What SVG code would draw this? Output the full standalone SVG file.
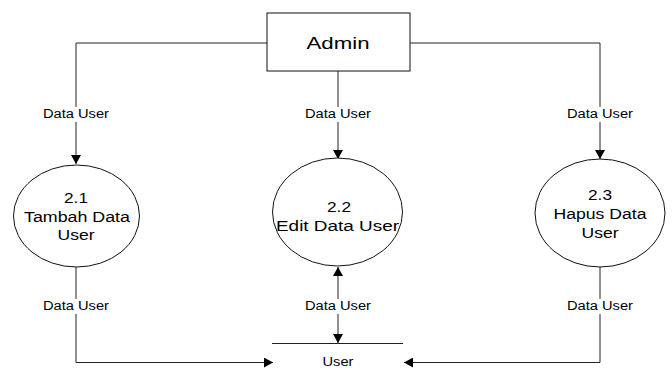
<svg xmlns="http://www.w3.org/2000/svg" width="672" height="379" viewBox="0 0 672 379">
<style>
.ln{fill:none;stroke:#222;stroke-width:1}
.shape{fill:#fff;stroke:#111;stroke-width:1}
.t{font-family:"Liberation Sans",Arial,sans-serif;fill:#000;text-anchor:middle}
.lbl{font-size:12px}
.big{font-size:15.5px}
.bg{fill:#fff}
</style>
<defs>
<marker id="arr" markerWidth="10" markerHeight="10" refX="9" refY="5" orient="auto" markerUnits="userSpaceOnUse">
<path d="M0,0 L9,5 L0,10 Z" fill="#000"/>
</marker>
<marker id="arrs" markerWidth="10" markerHeight="10" refX="1" refY="5" orient="auto" markerUnits="userSpaceOnUse">
<path d="M10,0 L1,5 L10,10 Z" fill="#000"/>
</marker>
</defs>
<rect width="672" height="379" fill="#fff"/>
<g id="connectors">
<path class="ln" d="M267,43 H76 V164" marker-end="url(#arr)"/>
<path class="ln" d="M338,71 V159" marker-end="url(#arr)"/>
<path class="ln" d="M410,43 H600 V159" marker-end="url(#arr)"/>
<path class="ln" d="M76,267 V362.5 H273" marker-end="url(#arr)"/>
<path class="ln" d="M338,267 V343" marker-start="url(#arrs)" marker-end="url(#arr)"/>
<path class="ln" d="M600,267 V362.5 H404" marker-end="url(#arr)"/>
<rect class="bg" x="42" y="107" width="68" height="15"/>
<text class="t lbl" x="76" y="117.5" textLength="66" lengthAdjust="spacingAndGlyphs">Data User</text>
<rect class="bg" x="304" y="107" width="68" height="15"/>
<text class="t lbl" x="338" y="117.5" textLength="66" lengthAdjust="spacingAndGlyphs">Data User</text>
<rect class="bg" x="566" y="107" width="68" height="15"/>
<text class="t lbl" x="600" y="117.5" textLength="66" lengthAdjust="spacingAndGlyphs">Data User</text>
<rect class="bg" x="42" y="299" width="68" height="15"/>
<text class="t lbl" x="76" y="309.5" textLength="66" lengthAdjust="spacingAndGlyphs">Data User</text>
<rect class="bg" x="304" y="299" width="68" height="15"/>
<text class="t lbl" x="338" y="309.5" textLength="66" lengthAdjust="spacingAndGlyphs">Data User</text>
<rect class="bg" x="566" y="299" width="68" height="15"/>
<text class="t lbl" x="600" y="309.5" textLength="66" lengthAdjust="spacingAndGlyphs">Data User</text>
</g>
<g id="admin">
<rect class="shape" x="267" y="13" width="143" height="58"/>
<text class="t" x="338" y="48.5" font-size="16.5" textLength="63" lengthAdjust="spacingAndGlyphs">Admin</text>
</g>
<g id="p21">
<ellipse class="shape" cx="76.5" cy="216" rx="63" ry="51"/>
<text class="t big" x="76" y="203" textLength="24" lengthAdjust="spacingAndGlyphs">2.1</text>
<text class="t big" x="77" y="221.5" textLength="106" lengthAdjust="spacingAndGlyphs">Tambah Data</text>
<text class="t big" x="76" y="240" textLength="37" lengthAdjust="spacingAndGlyphs">User</text>
</g>
<g id="p22">
<ellipse class="shape" cx="337.5" cy="212" rx="65" ry="54"/>
<text class="t big" x="339" y="211.5" textLength="24" lengthAdjust="spacingAndGlyphs">2.2</text>
<text class="t big" x="337.5" y="231" textLength="123" lengthAdjust="spacingAndGlyphs">Edit Data User</text>
</g>
<g id="p23">
<ellipse class="shape" cx="600" cy="213" rx="65" ry="54"/>
<text class="t big" x="600" y="200" textLength="24" lengthAdjust="spacingAndGlyphs">2.3</text>
<text class="t big" x="600" y="219" textLength="93" lengthAdjust="spacingAndGlyphs">Hapus Data</text>
<text class="t big" x="600" y="237.5" textLength="37" lengthAdjust="spacingAndGlyphs">User</text>
</g>
<g id="store-user">
<line class="ln" x1="272" y1="343.5" x2="403" y2="343.5"/>
<text class="t lbl" x="338" y="366" textLength="31" lengthAdjust="spacingAndGlyphs">User</text>
</g>
</svg>
